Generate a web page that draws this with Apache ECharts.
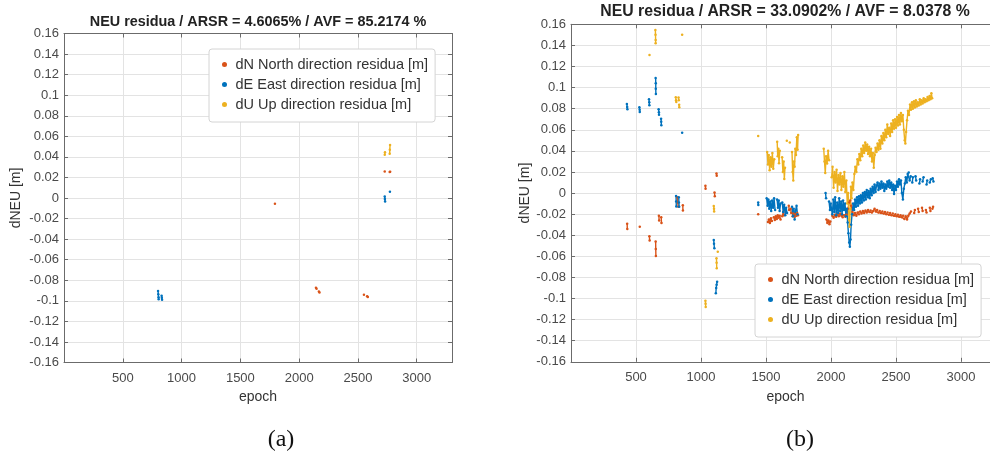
<!DOCTYPE html>
<html>
<head>
<meta charset="utf-8">
<script src="https://cdn.jsdelivr.net/npm/echarts@6/dist/echarts.min.js"></script>
<style>
  html, body { margin: 0; padding: 0; background: #fff; overflow: hidden; }
  #chart { width: 1010px; height: 454px; }
</style>
</head>
<body>
<div id="chart"></div>
<script>
// Break marker: ends one run of consecutive epochs so the trace is not joined across gaps
const GAP = ['-', '-'];

const seriesNames = ['dN North direction residua [m]', 'dE East direction residua [m]', 'dU Up direction residua [m]'];
const titleA = 'NEU residua / ARSR = 4.6065% / AVF = 85.2174 %';
const titleB = 'NEU residua / ARSR = 33.0902% / AVF = 8.0378 %';
const xTicks = [500, 1000, 1500, 2000, 2500, 3000];

// ---- panel (a): [epoch, residual m] ----
const northA = [
  [1794, -0.0057], GAP,
  [2143, -0.0872], [2148, -0.0882], GAP,
  [2168, -0.0910], [2173, -0.0918], GAP,
  [2551, -0.0940], GAP,
  [2578, -0.0955], [2584, -0.0962], GAP,
  [2728, 0.0257], GAP,
  [2770, 0.0254], [2774, 0.0256]
];
const eastA = [
  [800, -0.0905], [802, -0.0935], [804, -0.0965], [805, -0.0985], GAP,
  [830, -0.0950], [832, -0.0970], [834, -0.0990], GAP,
  [2728, 0.0015], [2729, -0.0010], [2731, -0.0035], GAP,
  [2772, 0.0062]
];
const upA = [
  [2728, 0.0420], [2730, 0.0445], GAP,
  [2770, 0.0430], [2771, 0.0470], [2773, 0.0515]
];

// ---- panel (b): [epoch, residual m] ----
const northB = [
  [432, -0.0290], [433, -0.0340], GAP,
  [529, -0.0319], GAP,
  [603, -0.0410], [605, -0.0450], GAP,
  [651, -0.0460], [652, -0.0530], [653, -0.0597], GAP,
  [676, -0.0215], [678, -0.0260], GAP,
  [694, -0.0230], [696, -0.0285], GAP,
  [818, -0.0040], [821, -0.0090], [825, -0.0130], GAP,
  [860, -0.0115], [861, -0.0165], GAP,
  [1034, 0.0070], [1035, 0.0040], GAP,
  [1104, 0.0005], [1106, -0.0030], GAP,
  [1119, 0.0185], [1121, 0.0165], GAP,
  [1440, -0.0200], GAP,
  [1515, -0.0275], [1522, -0.0250], [1530, -0.0285], [1538, -0.0240], [1545, -0.0265], GAP,
  [1560, -0.0230], [1568, -0.0255], [1575, -0.0220], [1583, -0.0245], [1590, -0.0210], [1598, -0.0235], [1605, -0.0215], [1612, -0.0250], GAP,
  [1625, -0.0220], [1632, -0.0180], [1640, -0.0210], GAP,
  [1675, -0.0120], [1678, -0.0160], GAP,
  [1690, -0.0150], [1694, -0.0190], GAP,
  [1705, -0.0220], [1712, -0.0195], [1720, -0.0225], [1727, -0.0200], [1734, -0.0215], [1740, -0.0190], [1746, -0.0210], GAP,
  [1965, -0.0250], [1972, -0.0285], [1980, -0.0260], [1988, -0.0295], [1995, -0.0270], GAP,
  [2010, -0.0215], [2020, -0.0235], [2030, -0.0205], [2040, -0.0225], [2050, -0.0200], [2060, -0.0220], [2070, -0.0195],
  [2080, -0.0215], [2090, -0.0230], [2100, -0.0210], [2110, -0.0225], [2120, -0.0205], [2130, -0.0150], [2140, -0.0090],
  [2148, -0.0070], [2155, -0.0120], [2165, -0.0180], [2175, -0.0210], [2185, -0.0190], [2195, -0.0215], [2205, -0.0185],
  [2215, -0.0200], [2225, -0.0175], [2235, -0.0195], [2245, -0.0170], [2255, -0.0190], [2265, -0.0165], [2275, -0.0185],
  [2285, -0.0160], [2295, -0.0180], [2305, -0.0165], [2315, -0.0185], [2325, -0.0170], [2335, -0.0150], [2345, -0.0175],
  [2355, -0.0160], [2365, -0.0185], [2375, -0.0170], [2385, -0.0190], [2395, -0.0175], [2405, -0.0195], [2415, -0.0180],
  [2425, -0.0200], [2435, -0.0185], [2445, -0.0205], [2455, -0.0190], [2465, -0.0210], [2475, -0.0195], [2485, -0.0215],
  [2495, -0.0200], [2505, -0.0220], [2515, -0.0205], [2525, -0.0225], [2535, -0.0210], [2545, -0.0230], [2555, -0.0215],
  [2565, -0.0245], [2575, -0.0220], [2585, -0.0250], [2595, -0.0215], [2605, -0.0195], [2615, -0.0175], GAP,
  [2640, -0.0190], [2645, -0.0160], GAP,
  [2670, -0.0150], [2675, -0.0180], GAP,
  [2700, -0.0140], [2705, -0.0170], GAP,
  [2730, -0.0160], [2735, -0.0185], GAP,
  [2760, -0.0140], [2765, -0.0170], GAP,
  [2780, -0.0150], [2785, -0.0130]
];
const eastB = [
  [430, 0.0844], [432, 0.0815], [434, 0.0794], GAP,
  [526, 0.0813], [528, 0.0790], [529, 0.0769], GAP,
  [600, 0.0889], [602, 0.0860], [603, 0.0832], GAP,
  [651, 0.1090], [652, 0.1040], [652, 0.0990], [653, 0.0940], GAP,
  [674, 0.0794], [676, 0.0765], [677, 0.0743], GAP,
  [693, 0.0705], [694, 0.0675], [695, 0.0643], GAP,
  [808, -0.0027], [809, -0.0080], [810, -0.0128], GAP,
  [829, -0.0040], [830, -0.0090], [832, -0.0130], GAP,
  [855, 0.0572], GAP,
  [1098, -0.0444], [1100, -0.0480], [1103, -0.0523], GAP,
  [1114, -0.0950], [1117, -0.0900], [1120, -0.0870], [1124, -0.0840], GAP,
  [1440, -0.0090], [1441, -0.0113], GAP,
  [1505, -0.0050], [1512, -0.0120], [1518, -0.0060], [1525, -0.0150], [1532, -0.0080], [1540, -0.0170], [1547, -0.0070],
  [1555, -0.0140], [1562, -0.0050], [1570, -0.0160], GAP,
  [1585, -0.0060], [1592, -0.0140], [1598, -0.0070], [1605, -0.0170], [1612, -0.0100], GAP,
  [1625, -0.0090], [1632, -0.0180], [1640, -0.0110], [1648, -0.0210], [1655, -0.0140], [1662, -0.0190], GAP,
  [1700, -0.0130], [1707, -0.0220], [1713, -0.0150], [1720, -0.0250], [1727, -0.0170], [1735, -0.0120], [1742, -0.0200], GAP,
  [1958, 0.0000], [1962, -0.0050], GAP,
  [1985, -0.0080], [1992, -0.0160], [1998, -0.0100],
  [2010, -0.0200], [2018, -0.0060], [2025, -0.0180], [2032, -0.0040], [2040, -0.0210], [2048, -0.0090], [2055, -0.0190],
  [2063, -0.0050], [2070, -0.0170], [2078, -0.0080], [2085, -0.0200], [2093, -0.0070], [2100, -0.0160], [2108, -0.0100],
  [2115, -0.0220], [2122, -0.0150], [2128, -0.0280], [2134, -0.0380], [2140, -0.0470], [2145, -0.0510], [2150, -0.0440],
  [2155, -0.0300], [2162, -0.0200], [2170, -0.0100], [2178, -0.0160], [2185, -0.0060], [2192, -0.0130], [2200, -0.0040],
  [2208, -0.0120], [2215, -0.0030], [2223, -0.0100], [2230, -0.0020], [2238, -0.0090], [2245, 0.0000], [2253, -0.0070],
  [2260, 0.0010], [2268, -0.0060], [2275, 0.0030], [2283, -0.0040], [2290, 0.0020], [2298, -0.0050], [2305, 0.0040],
  [2313, -0.0020], [2320, 0.0060], [2328, 0.0000], [2335, 0.0080], [2343, 0.0010], [2350, 0.0070], [2358, 0.0100],
  [2365, 0.0030], [2373, 0.0090], [2380, 0.0040], [2388, 0.0110], [2395, 0.0050], [2403, 0.0090], [2410, 0.0020],
  [2418, 0.0080], [2425, 0.0040], [2433, 0.0110], [2440, 0.0060], [2448, 0.0120], [2455, 0.0050], [2463, 0.0100],
  [2470, 0.0030], [2478, 0.0080], [2485, -0.0010], [2493, 0.0070], [2500, 0.0030], [2508, 0.0110], [2515, 0.0060],
  [2523, 0.0130], [2530, 0.0080], [2538, 0.0120], [2545, 0.0000], [2553, -0.0060], [2560, 0.0040], [2568, 0.0090],
  [2575, 0.0150], [2583, 0.0100], [2590, 0.0180], [2598, 0.0195], [2605, 0.0120], [2613, 0.0160], GAP,
  [2625, 0.0100], [2630, 0.0150], GAP,
  [2650, 0.0160], [2655, 0.0120], GAP,
  [2680, 0.0090], [2685, 0.0130], GAP,
  [2705, 0.0110], [2712, 0.0150], GAP,
  [2735, 0.0080], [2740, 0.0120], GAP,
  [2760, 0.0100], [2768, 0.0130], GAP,
  [2782, 0.0140], [2788, 0.0110]
];
const upB = [
  [604, 0.1310], GAP,
  [649, 0.1546], [650, 0.1500], [651, 0.1450], [651, 0.1420], GAP,
  [806, 0.0908], [808, 0.0880], [810, 0.0863], GAP,
  [827, 0.0905], [829, 0.0880], GAP,
  [832, 0.0838], [833, 0.0813], GAP,
  [855, 0.1500], GAP,
  [1034, -0.1020], [1035, -0.1050], [1036, -0.1080], GAP,
  [1098, -0.0122], [1100, -0.0150], [1101, -0.0176], GAP,
  [1119, -0.0618], [1120, -0.0660], [1121, -0.0713], GAP,
  [1129, -0.0556], GAP,
  [1440, 0.0540], GAP,
  [1509, 0.0390], [1515, 0.0270], [1521, 0.0360], [1528, 0.0217], [1535, 0.0340], [1542, 0.0250], [1549, 0.0380],
  [1556, 0.0230], [1563, 0.0320], GAP,
  [1586, 0.0487], [1590, 0.0350], [1595, 0.0420], [1600, 0.0283], [1606, 0.0400], GAP,
  [1624, 0.0340], [1630, 0.0200], [1636, 0.0300], [1641, 0.0134], [1646, 0.0240], GAP,
  [1660, 0.0497], GAP,
  [1683, 0.0480], GAP,
  [1700, 0.0390], [1705, 0.0200], [1710, 0.0120], [1715, 0.0300], [1720, 0.0250], [1725, 0.0420], [1731, 0.0360],
  [1737, 0.0530], [1743, 0.0410], [1747, 0.0550], GAP,
  [1944, 0.0420], [1950, 0.0300], [1956, 0.0190], [1962, 0.0350], [1970, 0.0280], [1978, 0.0400], [1985, 0.0310], GAP,
  [2005, 0.0150], [2012, 0.0250], [2020, 0.0050], [2028, 0.0200], [2035, 0.0100], [2043, 0.0220], [2050, 0.0020],
  [2058, 0.0170], [2065, 0.0080], [2073, 0.0190], [2080, 0.0030], [2088, 0.0160], [2095, 0.0060], [2103, 0.0200],
  [2110, 0.0010], [2118, 0.0120], [2125, -0.0100], [2132, 0.0000], [2138, -0.0250], [2143, -0.0320], [2148, -0.0150],
  [2153, 0.0060], [2158, -0.0050], [2165, 0.0100], [2172, 0.0030], [2180, 0.0180], [2187, 0.0250], [2195, 0.0200],
  [2203, 0.0320], [2210, 0.0270], [2218, 0.0370], [2225, 0.0310], [2233, 0.0420], [2240, 0.0350], [2248, 0.0450],
  [2255, 0.0380], [2263, 0.0480], [2270, 0.0400], [2278, 0.0460], [2285, 0.0370], [2293, 0.0440], [2300, 0.0350],
  [2308, 0.0420], [2315, 0.0300], [2322, 0.0380], [2329, 0.0240], [2336, 0.0360], [2343, 0.0430], [2350, 0.0390],
  [2358, 0.0470], [2365, 0.0410], [2373, 0.0500], [2380, 0.0420], [2388, 0.0540], [2395, 0.0470], [2403, 0.0570],
  [2410, 0.0500], [2418, 0.0600], [2425, 0.0530], [2433, 0.0650], [2440, 0.0560], [2448, 0.0620], [2455, 0.0540],
  [2463, 0.0660], [2470, 0.0580], [2478, 0.0690], [2485, 0.0610], [2493, 0.0700], [2500, 0.0620], [2508, 0.0720],
  [2515, 0.0640], [2523, 0.0740], [2530, 0.0650], [2538, 0.0760], [2545, 0.0680], [2553, 0.0740], [2560, 0.0600],
  [2567, 0.0500], [2572, 0.0470], [2578, 0.0580], [2585, 0.0690], [2592, 0.0780], [2600, 0.0740], [2608, 0.0840],
  [2615, 0.0790], [2623, 0.0860], [2630, 0.0800], [2638, 0.0870], [2645, 0.0810], [2653, 0.0880], [2660, 0.0820],
  [2668, 0.0860], [2675, 0.0830], [2683, 0.0890], [2690, 0.0840], [2698, 0.0880], [2705, 0.0850], [2713, 0.0900],
  [2720, 0.0860], [2728, 0.0890], [2735, 0.0870], [2743, 0.0910], [2750, 0.0880], [2758, 0.0920], [2765, 0.0890],
  [2772, 0.0946], [2778, 0.0900]
];

const COLORS = ['#D95319', '#0072BD', '#EDB120'];
const SANS = 'Liberation Sans, Arial, Helvetica, sans-serif';
const SERIF = '"Liberation Serif", "DejaVu Serif", serif';
const AXIS_COLOR = '#6b6b6b';
const GRID_COLOR = '#e3e3e3';

const chart = echarts.init(document.getElementById('chart'), null, { renderer: 'canvas' });

const yFmt = v => { const r = Math.round(v * 100) / 100; return r === 0 ? '0' : String(r); };
const xFmt = v => (xTicks.indexOf(Math.round(v)) >= 0 ? String(Math.round(v)) : '');

function mainX(gridIndex) {
  return {
    type: 'value', gridIndex, position: 'bottom', min: 0, max: 3300, interval: 500,
    name: 'epoch', nameLocation: 'middle', nameGap: 28,
    nameTextStyle: { fontFamily: SANS, fontSize: 14, color: '#333' },
    axisLine: { show: true, onZero: false, lineStyle: { color: AXIS_COLOR, width: 1 } },
    axisTick: { show: true, inside: true, length: 4, lineStyle: { color: AXIS_COLOR } },
    axisLabel: { formatter: xFmt, fontFamily: SANS, fontSize: 13, color: '#4a4a4a', margin: 9 },
    splitLine: { show: true, lineStyle: { color: GRID_COLOR, width: 1 } }
  };
}
function frameX(gridIndex) {
  return {
    type: 'value', gridIndex, position: 'top', min: 0, max: 3300, interval: 500,
    axisLine: { show: true, onZero: false, lineStyle: { color: AXIS_COLOR, width: 1 } },
    axisTick: { show: true, inside: true, length: 4, lineStyle: { color: AXIS_COLOR } },
    axisLabel: { show: false }, splitLine: { show: false }
  };
}
function mainY(gridIndex, gap) {
  return {
    type: 'value', gridIndex, position: 'left', min: -0.16, max: 0.16, interval: 0.02,
    name: 'dNEU [m]', nameLocation: 'middle', nameGap: gap,
    nameTextStyle: { fontFamily: SANS, fontSize: 14, color: '#333' },
    axisLine: { show: true, onZero: false, lineStyle: { color: AXIS_COLOR, width: 1 } },
    axisTick: { show: true, inside: true, length: 4, lineStyle: { color: AXIS_COLOR } },
    axisLabel: { formatter: yFmt, fontFamily: SANS, fontSize: 13, color: '#4a4a4a', margin: 5 },
    splitLine: { show: true, lineStyle: { color: GRID_COLOR, width: 1 } }
  };
}
function frameY(gridIndex) {
  return {
    type: 'value', gridIndex, position: 'right', min: -0.16, max: 0.16, interval: 0.02,
    axisLine: { show: true, onZero: false, lineStyle: { color: AXIS_COLOR, width: 1 } },
    axisTick: { show: true, inside: true, length: 4, lineStyle: { color: AXIS_COLOR } },
    axisLabel: { show: false }, splitLine: { show: false }
  };
}

function trace(name, data, color, xi, yi) {
  return {
    name, type: 'line', data, xAxisIndex: xi, yAxisIndex: yi,
    connectNulls: false, showSymbol: true, symbol: 'circle', symbolSize: 2.5,
    animation: false, silent: true,
    lineStyle: { color, width: 1.4 }, itemStyle: { color }
  };
}

function legendAt(left, top) {
  return {
    data: seriesNames.map(n => ({ name: n, icon: 'circle' })),
    orient: 'vertical', left, top,
    itemWidth: 12, itemHeight: 5, itemGap: 5,
    padding: [8, 7, 10, 13],
    backgroundColor: '#ffffff', borderColor: '#d4d4d4', borderWidth: 1, borderRadius: 3,
    textStyle: { fontFamily: SANS, fontSize: 14.5, color: '#333' },
    selectedMode: false
  };
}

chart.setOption({
  backgroundColor: '#ffffff',
  animation: false,
  title: [
    { text: titleA, left: 258, top: 15, padding: 0, textAlign: 'center',
      textStyle: { fontFamily: SANS, fontSize: 14.4, fontWeight: 'bold', color: '#222' } },
    { text: titleB, left: 785, top: 4, padding: 0, textAlign: 'center',
      textStyle: { fontFamily: SANS, fontSize: 15.8, fontWeight: 'bold', color: '#222' } }
  ],
  legend: [legendAt(209, 49), legendAt(755, 264)],
  grid: [
    { left: 64, top: 33.5, width: 388, height: 329 },
    { left: 571, top: 24.3, width: 429, height: 337.5 }
  ],
  xAxis: [mainX(0), frameX(0), mainX(1), frameX(1)],
  yAxis: [mainY(0, 41), frameY(0), mainY(1, 38), frameY(1)],
  series: [
    trace(seriesNames[0], northA, COLORS[0], 0, 0),
    trace(seriesNames[1], eastA, COLORS[1], 0, 0),
    trace(seriesNames[2], upA, COLORS[2], 0, 0),
    trace(seriesNames[0], northB, COLORS[0], 2, 2),
    trace(seriesNames[1], eastB, COLORS[1], 2, 2),
    trace(seriesNames[2], upB, COLORS[2], 2, 2)
  ],
  graphic: [
    { type: 'text', x: 281, y: 440, style: { text: '(a)', font: '24px ' + SERIF, fill: '#111', textAlign: 'center', textVerticalAlign: 'middle' } },
    { type: 'text', x: 800, y: 440, style: { text: '(b)', font: '24px ' + SERIF, fill: '#111', textAlign: 'center', textVerticalAlign: 'middle' } }
  ]
});
</script>
</body>
</html>
